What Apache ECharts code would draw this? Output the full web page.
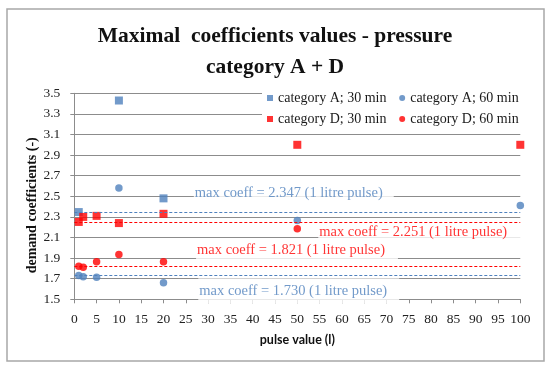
<!DOCTYPE html>
<html><head><meta charset="utf-8">
<script src="https://cdn.jsdelivr.net/npm/echarts@6/dist/echarts.min.js"></script>
<style>html,body{margin:0;padding:0;background:#fff}#c{width:550px;height:368px}</style>
</head><body><div id="c"></div>
<script>
// ---- data ----
const seriesNames = ['category A; 30 min', 'category A; 60 min', 'category D; 30 min', 'category D; 60 min'];
const pulseA30 = [1, 10, 20];
const coefA30  = [2.347, 3.43, 2.48];
const pulseA60 = [1, 2, 5, 10, 20, 50, 100];
const coefA60  = [1.730, 1.72, 1.715, 2.58, 1.66, 2.265, 2.41];
const pulseD30 = [1, 2, 5, 10, 20, 50, 100];
const coefD30  = [2.251, 2.30, 2.31, 2.24, 2.33, 3.0, 3.0];
const pulseD60 = [1, 2, 5, 10, 20, 50];
const coefD60  = [1.821, 1.81, 1.865, 1.935, 1.865, 2.185];
const maxCoefA30 = 2.347, maxCoefD30 = 2.251, maxCoefD60 = 1.821, maxCoefA60 = 1.730;
const yTickValues = [1.5, 1.7, 1.9, 2.1, 2.3, 2.5, 2.7, 2.9, 3.1, 3.3, 3.5];
const noteTexts = [
  'max coeff = 2.347 (1 litre pulse)',
  'max coeff = 2.251 (1 litre pulse)',
  'max coeff = 1.821 (1 litre pulse)',
  'max coeff = 1.730 (1 litre pulse)'
];

const BLUE = '#4F81BD', RED = '#FF0000', GRID = '#8c8c8c';
const SERIF = 'Liberation Serif';
const zip = (xs, ys) => xs.map((x, i) => [x, ys[i]]);

function ml(v, color) {
  return {
    silent: true, symbol: 'none', label: {show: false}, animation: false,
    lineStyle: {type: [3, 2], color: color, width: 1},
    emphasis: {disabled: true},
    data: [{yAxis: v}]
  };
}

// annotation placement (layout only)
const notes = [
  {x: 26.8, y: 2.529, color: BLUE, pad: [3, 11, 3, 1]},
  {x: 54.7, y: 2.147, color: RED,  pad: [3, 16, 3, 1]},
  {x: 27.3, y: 1.979, color: RED,  pad: [4, 13, 4, 1]},
  {x: 27.8, y: 1.583, color: BLUE, pad: [5, 12, 5, 1]}
];

const chart = echarts.init(document.getElementById('c'));
chart.setOption({
  animation: false,
  backgroundColor: '#fff',
  title: {
    text: 'Maximal  coefficients values - pressure\ncategory A + D',
    left: 'center', top: 16,
    textStyle: {fontFamily: SERIF, fontWeight: 'bold', fontSize: 21.5, lineHeight: 31, color: '#111'}
  },
  graphic: [{
    type: 'rect', z: -1, silent: true,
    shape: {x: 7, y: 9, width: 537, height: 352},
    style: {fill: null, stroke: '#a8a8a8', lineWidth: 1.5}
  }],
  legend: [
    {
      data: [{name: seriesNames[0], icon: 'rect'}, {name: seriesNames[1], icon: 'circle'}],
      left: 262, top: 87, padding: [4, 4, 3, 5], itemGap: 12.7,
      itemWidth: 6, itemHeight: 6, backgroundColor: '#fff', selectedMode: false,
      textStyle: {fontFamily: SERIF, fontSize: 14, color: '#1a1a1a'}
    },
    {
      data: [{name: seriesNames[2], icon: 'rect'}, {name: seriesNames[3], icon: 'circle'}],
      left: 262, top: 109, padding: [3, 4, 6, 5], itemGap: 12.7,
      itemWidth: 6, itemHeight: 6, backgroundColor: '#fff', selectedMode: false,
      textStyle: {fontFamily: SERIF, fontSize: 14, color: '#1a1a1a'}
    }
  ],
  grid: {left: 74.3, right: 29.7, top: 93.3, bottom: 68.7, outerBoundsMode: 'none'},
  xAxis: {
    type: 'value', min: 0, max: 100, interval: 5,
    name: 'pulse value (l)', nameLocation: 'middle', nameGap: 34, nameMoveOverlap: false,
    nameTextStyle: {fontFamily: 'Lato', fontWeight: 'bold', fontSize: 12.5, color: '#111'},
    axisLine: {show: true, lineStyle: {color: GRID, width: 1}},
    axisTick: {show: true, inside: false, length: 4, lineStyle: {color: GRID}},
    axisLabel: {fontFamily: SERIF, fontSize: 13.5, color: '#222', margin: 13},
    splitLine: {show: false}
  },
  yAxis: {
    type: 'value', min: 1.5, max: 3.5,
    name: 'demand coefficients (-)', nameLocation: 'middle', nameGap: 35, nameMoveOverlap: false,
    nameTextStyle: {fontFamily: SERIF, fontWeight: 'bold', fontSize: 14, color: '#111', padding: [0, 18, 0, 0]},
    axisLine: {show: true, lineStyle: {color: GRID, width: 1}},
    axisTick: {show: true, inside: false, length: 4, lineStyle: {color: GRID}, customValues: yTickValues},
    axisLabel: {fontFamily: SERIF, fontSize: 13.5, color: '#222', margin: 14, customValues: yTickValues,
      formatter: v => v.toFixed(1)},
    splitLine: {show: true, lineStyle: {color: GRID, width: 1}}
  },
  series: [
    {name: seriesNames[0], type: 'scatter', symbol: 'rect', symbolSize: 8, z: 3,
     itemStyle: {color: BLUE}, data: zip(pulseA30, coefA30), markLine: ml(maxCoefA30, BLUE)},
    {name: seriesNames[1], type: 'scatter', symbol: 'circle', symbolSize: 7.5, z: 3,
     itemStyle: {color: BLUE}, data: zip(pulseA60, coefA60), markLine: ml(maxCoefA60, BLUE)},
    {name: seriesNames[2], type: 'scatter', symbol: 'rect', symbolSize: 8, z: 3,
     itemStyle: {color: RED}, data: zip(pulseD30, coefD30), markLine: ml(maxCoefD30, RED)},
    {name: seriesNames[3], type: 'scatter', symbol: 'circle', symbolSize: 7.5, z: 3,
     itemStyle: {color: RED}, data: zip(pulseD60, coefD60), markLine: ml(maxCoefD60, RED)},
    {
      name: 'notes', type: 'scatter', symbolSize: 0, z: 1, silent: true,
      data: notes.map((n, i) => ({
        value: [n.x, n.y],
        label: {
          show: true, position: 'right', distance: 0,
          formatter: noteTexts[i],
          fontFamily: SERIF, fontSize: 14.5, color: n.color,
          backgroundColor: '#fff', padding: n.pad
        }
      }))
    }
  ]
});
</script></body></html>
